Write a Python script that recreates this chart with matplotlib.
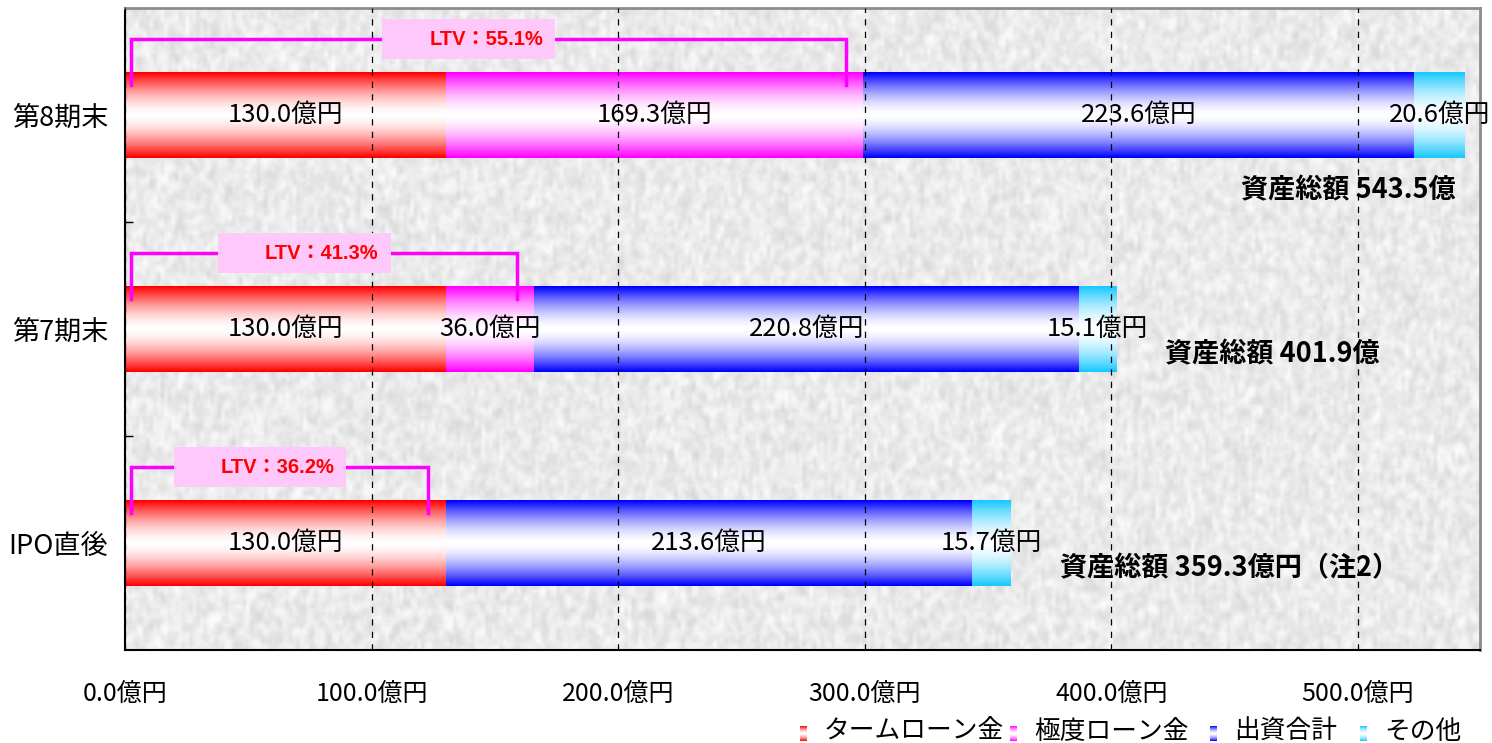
import numpy as np
import matplotlib
matplotlib.use("Agg")
import matplotlib.pyplot as plt
from matplotlib.patches import Rectangle

plt.rcParams['font.family'] = ['Noto Sans CJK JP', 'DejaVu Sans']

# ---- data (億円) ----
categories = ['IPO直後', '第7期末', '第8期末']
term_loan = [130.0, 130.0, 130.0]
credit_loan = [0.0, 36.0, 169.3]
equity = [213.6, 220.8, 223.6]
other = [15.7, 15.1, 20.6]
ltv = [36.2, 41.3, 55.1]
total_suffix = ['円（注2）', '', '']
series_names = ['タームローン金', '極度ローン金', '出資合計', 'その他']
series_colors = ['#ff0000', '#ff00ff', '#0000ff', '#19c8ff']
xticks = [0, 100, 200, 300, 400, 500]

fig = plt.figure(figsize=(14.92, 7.43), dpi=100)
ax = fig.add_axes([125 / 1492, 1 - 650 / 743, 1355 / 1492, 642 / 743])
XMAX = 549.5
YLIM = (-0.5, 2.5)


def textured_background(ax):
    # deterministic hash-based speckle texture
    ny, nx = 170, 380
    j, i = np.meshgrid(np.arange(nx), np.arange(ny))
    h = np.sin(i * 12.9898 + j * 78.233) * 43758.5453
    h = h - np.floor(h)
    s = (h + np.roll(h, 1, 0) + np.roll(h, 1, 1) + np.roll(h, -1, 0)) / 4.0
    g = 0.83 + 0.15 * s + 0.03 * h
    g = np.clip(g, 0, 1)
    img = np.dstack([g, g, g])
    ax.imshow(img, extent=(0, XMAX, YLIM[0], YLIM[1]), aspect='auto',
              interpolation='bilinear', zorder=0)


def gradient_image(color, n=64):
    rgb = np.array(matplotlib.colors.to_rgb(color))
    t = np.abs(np.linspace(-1, 1, n))
    w = t ** 1.6
    col = (1 - w)[:, None] * np.ones(3) + w[:, None] * rgb
    return col[:, None, :]


textured_background(ax)

y = np.arange(len(categories))
series = [term_loan, credit_loan, equity, other]
left = np.zeros(len(categories))
bar_h = 0.4
for vals, col in zip(series, series_colors):
    vals = np.array(vals)
    cont = ax.barh(y, vals, left=left, height=bar_h, facecolor='none',
                   edgecolor='none', zorder=2)
    for p, v in zip(cont.patches, vals):
        if v <= 0:
            continue
        x0, y0 = p.get_x(), p.get_y()
        ax.imshow(gradient_image(col), extent=(x0, x0 + p.get_width(), y0, y0 + p.get_height()),
                  aspect='auto', interpolation='bilinear', zorder=1.5)
    labels = [f'{v:.1f}億円' if v > 0 else '' for v in vals]
    ax.bar_label(cont, labels=labels, label_type='center', fontsize=18.5,
                 color='black', zorder=5)
    left = left + vals

totals = left
debt = np.array(term_loan) + np.array(credit_loan)

# LTV brackets
for k in range(len(categories)):
    yb = y[k] + bar_h / 2 + 0.155
    ytip = y[k] + bar_h / 2 - 0.06
    xl = 2.5
    xr = debt[k] - 7
    ax.plot([xl, xl, xr, xr], [ytip, yb, yb, ytip], color='#ff00ff', lw=2.5,
            solid_joinstyle='miter', zorder=3)
    xm = (xl + xr) / 2 - 8
    bw, bh = 70, 0.185
    ax.add_patch(Rectangle((xm - bw / 2, yb - bh / 2), bw, bh, facecolor='#ffc8fa',
                           edgecolor='none', zorder=4))
    ax.text(xm + 7, yb, f'LTV：{ltv[k]:.1f}%', color='#ff0000', fontsize=14.5,
            fontweight='bold', ha='center', va='center', zorder=5,
            family=['Liberation Sans', 'Noto Sans CJK JP'])

# total asset labels
for k in range(len(categories)):
    txt = f'資産総額 {totals[k]:.1f}億' + total_suffix[k]
    if totals[k] > 500:
        ax.text(totals[k] - 4, y[k] - 0.35, txt, ha='right', va='center',
                fontsize=19.5, fontweight='bold', zorder=5)
    else:
        ax.text(totals[k] + 20, y[k] - 0.12, txt, ha='left', va='center',
                fontsize=19.5, fontweight='bold', zorder=5)

ax.set_xlim(0, XMAX)
ax.set_ylim(*YLIM)

ax.set_xticks(xticks)
ax.set_xticklabels([f'{v:.1f}億円' for v in xticks], fontsize=18)
ax.tick_params(axis='x', length=0, pad=22)
ax.xaxis.grid(True, color='black', linestyle=(0, (5, 5)), lw=0.9)
ax.set_axisbelow(False)
for gl in ax.get_xgridlines():
    gl.set_zorder(1)

ax.set_yticks(y)
ax.set_yticklabels(categories, fontsize=19.5)
ax.tick_params(axis='y', which='major', length=0, pad=12)
ax.set_yticks([0.5, 1.5], minor=True)
ax.tick_params(axis='y', which='minor', direction='in', length=6, width=1, color='black')

for side in ['top', 'right']:
    ax.spines[side].set_color('#8c8c8c')
    ax.spines[side].set_linewidth(2)
for side in ['left', 'bottom']:
    ax.spines[side].set_color('black')
    ax.spines[side].set_linewidth(1.5)

# legend along the bottom right
leg_x = [800, 1010, 1210, 1360]
for name, col, lx in zip(series_names, series_colors, leg_x):
    lax = fig.add_axes([lx / 1492, 1 - 741 / 743, 7 / 1492, 15 / 743])
    lax.imshow(gradient_image(col), aspect='auto', interpolation='bilinear')
    lax.axis('off')
    fig.text((lx + 24) / 1492, 1 - 732 / 743, name, fontsize=18.5, ha='left', va='center')

fig.savefig('out.png', dpi=100)
